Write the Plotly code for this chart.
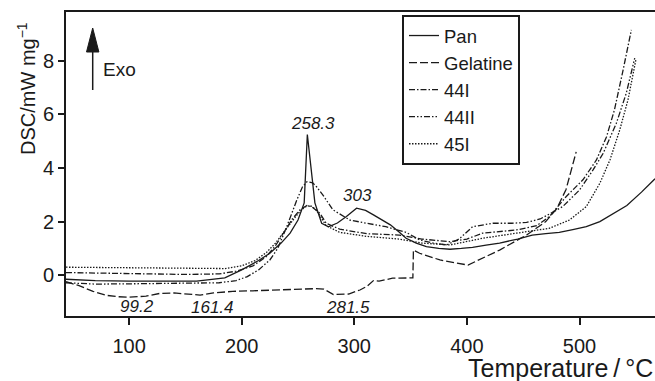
import plotly.graph_objects as go

# ---- data ----
pan_T = [44, 70, 100, 130, 160, 185, 200, 215, 225, 235, 243, 250, 255.5, 258.3, 265, 271, 277,
         285, 293, 302, 310, 317, 325, 332, 340, 346, 355, 364, 375, 385, 395, 405, 417, 429,
         445, 458, 470, 482, 494, 506, 518, 530, 542, 555, 567]
pan_v = [-0.15, -0.2, -0.22, -0.23, -0.22, -0.1, 0.2, 0.55, 0.82, 1.2, 1.57, 2.06, 2.7, 5.25, 2.7, 1.94, 1.81,
         1.95, 2.19, 2.5, 2.42, 2.25, 2.05, 1.88, 1.6, 1.38, 1.2, 1.07, 1.0, 0.97, 1.0, 1.04, 1.12, 1.2,
         1.35, 1.5, 1.55, 1.6, 1.7, 1.81, 2.0, 2.3, 2.6, 3.1, 3.6]

gel_T = [44, 55, 68, 80, 90, 100, 115, 127, 140, 155, 163, 175, 192, 210, 231, 250, 265, 273, 281.5,
         295, 305, 311, 317, 322, 334, 349, 352, 352.5, 358, 376, 401, 429, 453, 470, 480, 488, 497]
gel_v = [-0.24, -0.38, -0.6, -0.75, -0.8, -0.82, -0.78, -0.68, -0.66, -0.7, -0.74, -0.66, -0.6, -0.58,
         -0.55, -0.52, -0.5, -0.52, -0.72, -0.7, -0.55, -0.42, -0.2, -0.22, -0.11, -0.1, -0.1, 0.94,
         0.82, 0.57, 0.38, 0.94, 1.5, 2.0, 2.5, 3.2, 4.6]

s44I_T = [44, 100, 150, 180, 195, 210, 222, 230, 237, 245, 252, 258, 262, 269.5, 275, 287, 311, 340,
          360, 385, 400, 414, 444, 462, 473.5, 488, 503, 515, 524, 531, 538.7, 546]
s44I_v = [0.1, 0.05, 0.03, 0.05, 0.15, 0.35, 0.7, 1.1, 1.57, 2.1, 2.45, 2.6, 2.56, 2.31, 1.94, 1.72,
          1.55, 1.5, 1.35, 1.25, 1.35, 1.57, 1.69, 1.85, 2.2, 2.93, 3.56, 4.3, 5.17, 6.17, 7.66, 9.15]

s44II_T = [44, 70, 100, 130, 160, 180, 195, 205, 215, 225, 232, 240, 249, 254, 258, 263, 266.5, 272,
           281, 296, 311, 328, 346, 358, 370, 382, 393, 405, 423, 440, 453, 465, 474, 485, 500, 512,
           521, 532.7, 541.5, 549]
s44II_v = [-0.28, -0.33, -0.32, -0.3, -0.3, -0.28, -0.2, -0.05, 0.2, 0.57, 1.0, 1.81, 2.81, 3.3, 3.49,
           3.45, 3.3, 3.0, 2.44, 2.06, 1.94, 1.81, 1.6, 1.32, 1.2, 1.13, 1.35, 1.81, 1.94, 1.94, 1.97,
           2.1, 2.3, 2.56, 3.18, 3.93, 4.55, 5.67, 6.79, 8.1]

s45I_T = [44, 100, 150, 185, 200, 212, 222, 230, 240, 250, 256, 261, 266, 270, 275, 287, 311, 340,
          360, 385, 414, 444, 473, 491, 506, 518, 527, 535.7, 543, 550]
s45I_v = [0.3, 0.27, 0.25, 0.25, 0.35, 0.55, 0.85, 1.2, 1.75, 2.3, 2.55, 2.6, 2.45, 2.2, 1.85, 1.6,
          1.45, 1.35, 1.2, 1.13, 1.38, 1.57, 1.75, 2.06, 2.56, 3.43, 4.3, 5.42, 6.54, 8.03]

series_names = ["Pan", "Gelatine", "44I", "44II", "45I"]
peak_labels = ["258.3", "303", "99.2", "161.4", "281.5"]
peak_label_T = [263.3, 303.2, 107, 174.5, 294.3]
peak_label_v = [5.65, 2.96, -1.18, -1.22, -1.22]

x_ticks = [100, 200, 300, 400, 500]
y_ticks = [0, 2, 4, 6, 8]

# ---- figure ----
LC = "#1a1a1a"
series = [
    (pan_T, pan_v, "solid"),
    (gel_T, gel_v, "8px,3px"),
    (s44I_T, s44I_v, "6px,2px,1.5px,2px"),
    (s44II_T, s44II_v, "6px,2px,1.5px,2px,1.5px,2px"),
    (s45I_T, s45I_v, "1.5px,1.5px"),
]

fig = go.Figure()
for name, (T, v, dash) in zip(series_names, series):
    fig.add_trace(go.Scatter(x=T, y=v, mode="lines", name=name,
                             line=dict(color=LC, width=1.3, dash=dash)))

for txt, tx, ty in zip(peak_labels, peak_label_T, peak_label_v):
    fig.add_annotation(x=tx, y=ty, text=txt, showarrow=False, xanchor="center", yanchor="middle",
                       font=dict(family="Liberation Sans Narrow, Liberation Sans", size=17,
                                 color=LC, style="italic"))

W, H = 655, 381
L, R, T_, B = 66, 0, 12, 65
pw, ph = W - L - R, H - T_ - B


def px(x):
    return (x - L) / pw


def py(y):
    return (H - B - y) / ph


# Exo arrow
fig.add_shape(type="line", xref="paper", yref="paper",
              x0=px(92.7), x1=px(92.7), y0=py(90), y1=py(50),
              line=dict(color=LC, width=1.5))
fig.add_shape(type="path", xref="paper", yref="paper",
              path=f"M {px(86.5)},{py(52)} L {px(92.7)},{py(28)} L {px(98.9)},{py(52)} Z",
              fillcolor=LC, line=dict(color=LC, width=1))
fig.add_annotation(xref="paper", yref="paper", x=px(101), y=py(69), xanchor="left",
                   yanchor="middle", text="Exo", showarrow=False, font=dict(size=19, color=LC))

# axis titles
fig.add_annotation(xref="paper", yref="paper", x=px(26), y=py(89), textangle=-90,
                   xanchor="center", yanchor="middle",
                   text="DSC/mW mg<sup>−1</sup>", showarrow=False, font=dict(size=20, color=LC))
fig.add_annotation(xref="paper", yref="paper", x=1.0, y=py(368), xanchor="right",
                   yanchor="middle",
                   text="Temperature\u2009/\u2009°C", showarrow=False, font=dict(size=25, color=LC))

fig.update_layout(
    width=W, height=H,
    margin=dict(l=L, r=R, t=T_, b=B, pad=0),
    paper_bgcolor="white", plot_bgcolor="white",
    font=dict(family="Liberation Sans, Arial", size=20, color=LC),
    showlegend=True,
    legend=dict(x=px(402), y=py(15), xanchor="left", yanchor="top",
                bordercolor=LC, borderwidth=2, bgcolor="white",
                font=dict(size=18.5), tracegroupgap=0, itemwidth=30),
    xaxis=dict(range=[44, 567], tickvals=x_ticks, ticks="outside", ticklen=7, tickwidth=2,
               tickcolor=LC, showline=True, linecolor=LC, linewidth=2, mirror=True,
               showgrid=False, zeroline=False, tickfont=dict(size=20), ticklabelstandoff=4),
    yaxis=dict(range=[-1.52, 9.82], tickvals=y_ticks, ticks="outside", ticklen=6, tickwidth=2,
               tickcolor=LC, showline=True, linecolor=LC, linewidth=2, mirror=False,
               showgrid=False, zeroline=False, tickfont=dict(size=20)),
)

fig.write_html("out.html")
